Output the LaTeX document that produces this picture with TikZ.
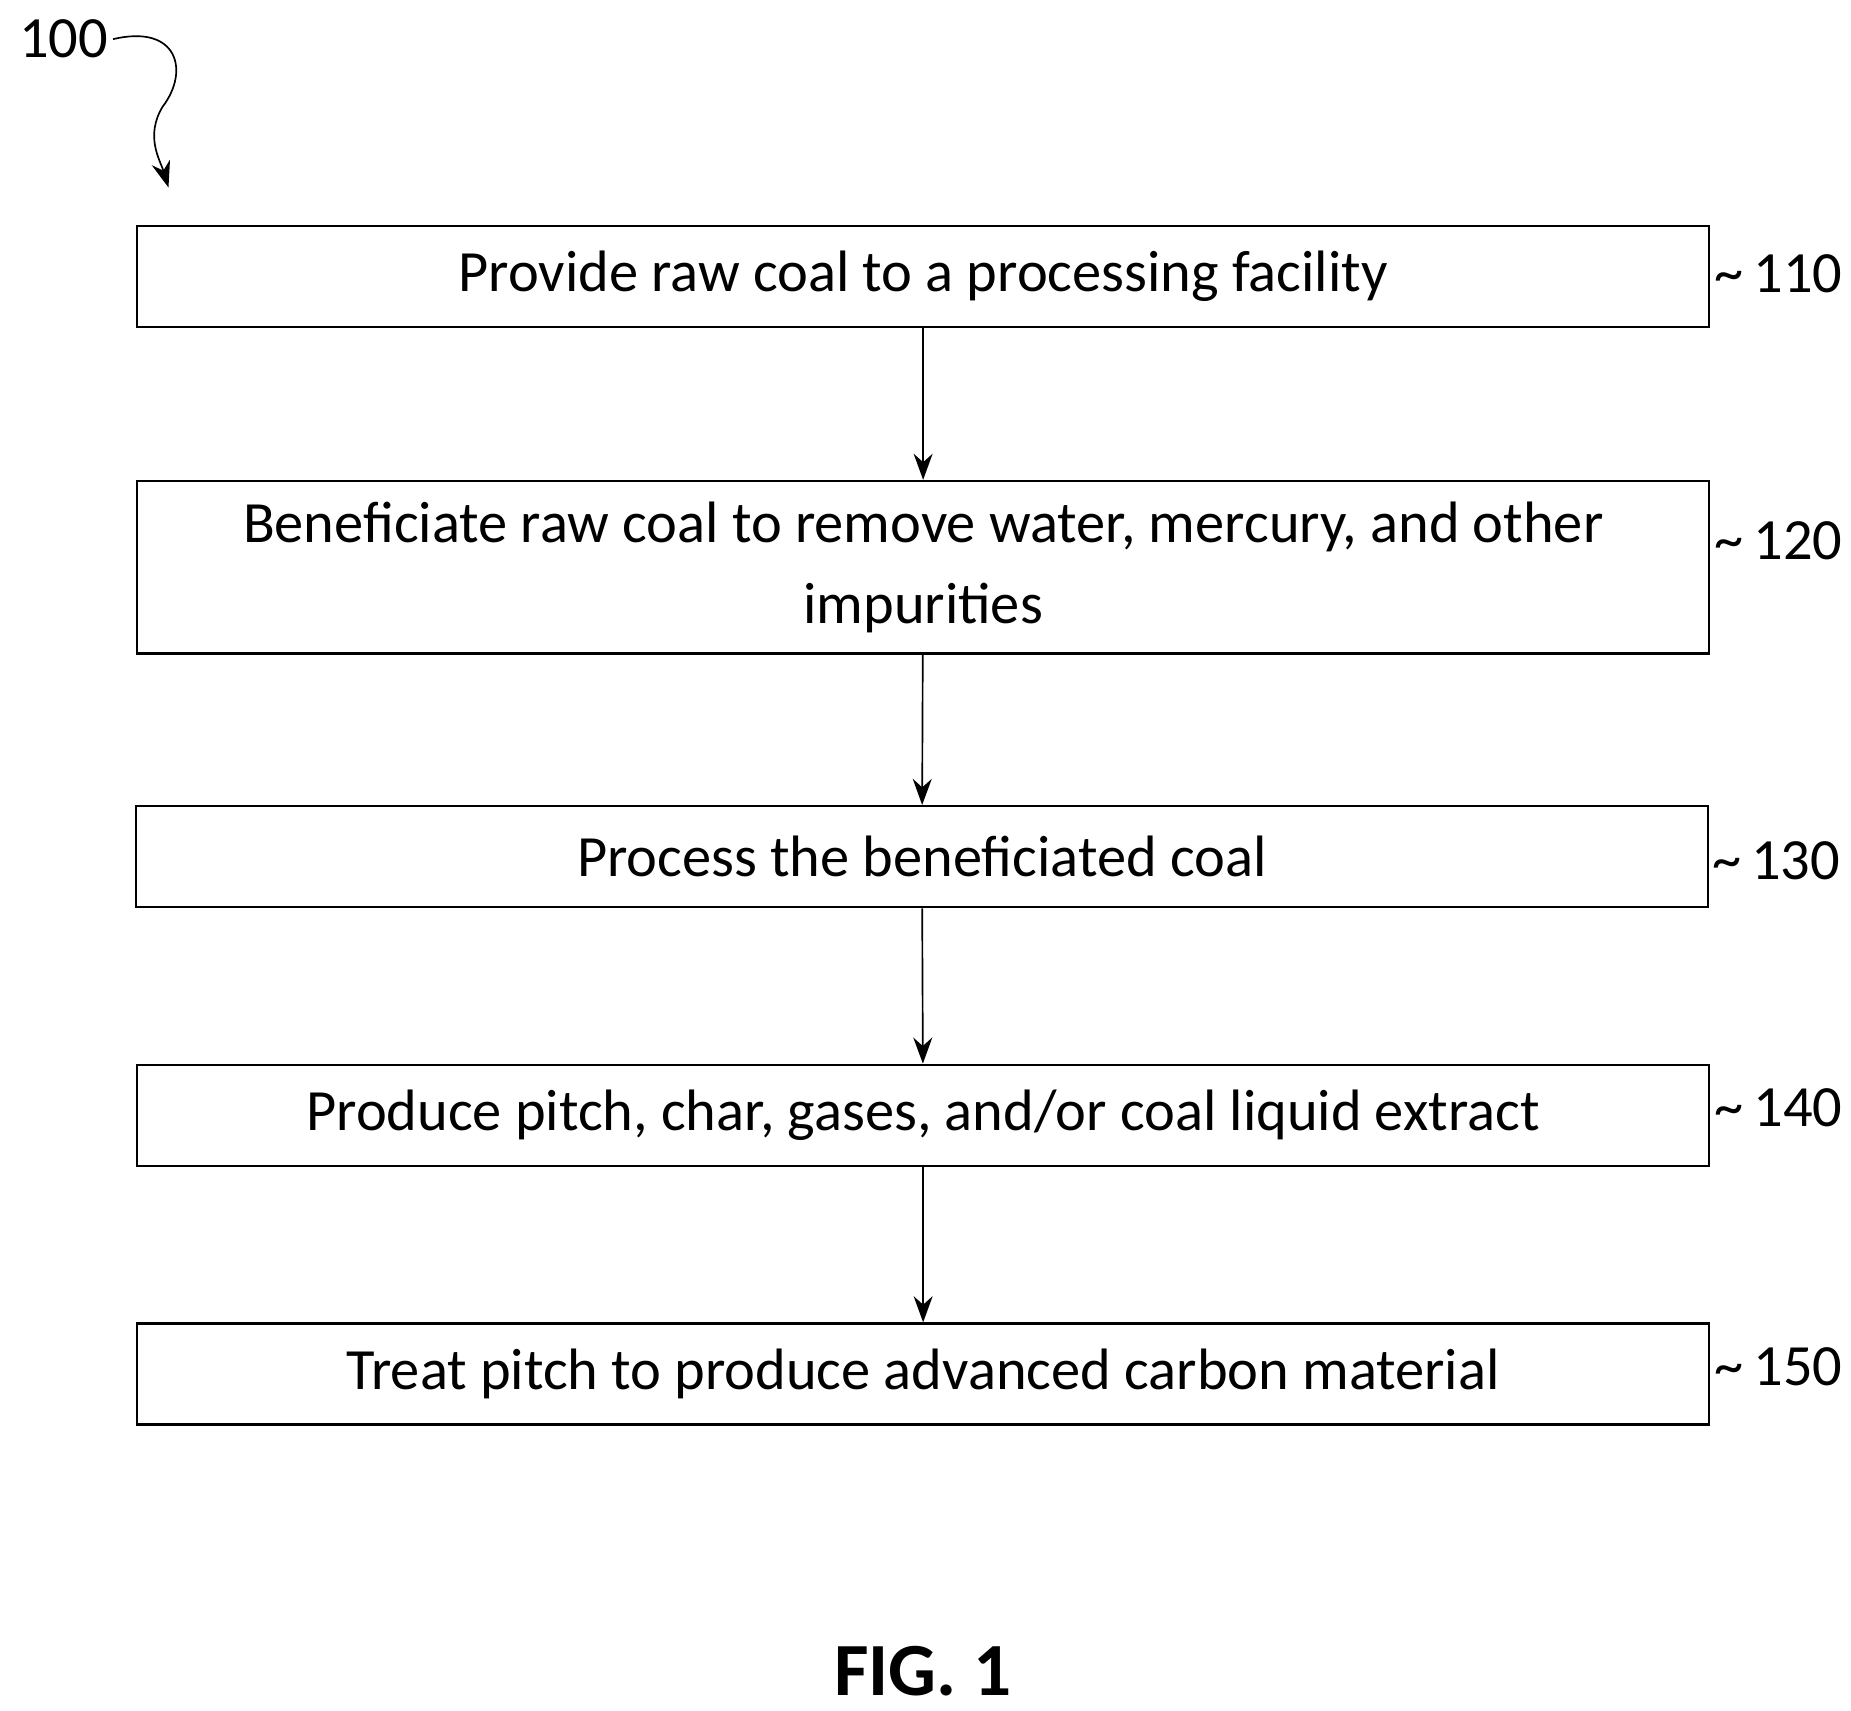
\documentclass[tikz,border=0pt]{standalone}
\usepackage{fontspec}
\setmainfont{Carlito}
\usetikzlibrary{positioning}
\usetikzlibrary{arrows.meta}

\begin{document}
\begin{tikzpicture}[x=0.01cm,y=-0.01cm,
    stepbox/.style = {draw, semithick, minimum width=13.24cm, align=center, font=\fontsize{14}{19.5}\selectfont, inner sep=0},
    flow/.style = {-{Stealth[length=2.2mm,width=1.6mm]}},
    ref/.style = {font=\fontsize{14}{16}\selectfont, anchor=west, inner sep=1pt}]

        % Bounding box
        \useasboundingbox (0,0) rectangle (1560,1442);

        % Steps
        \node[stepbox, minimum height=0.85cm] (s110) at (778,233) {Provide raw coal to a processing facility};
        \node[stepbox, minimum height=1.45cm] (s120) at (778,478) {Beneficiate raw coal to remove water, mercury, and other\\impurities};
        \node[stepbox, minimum height=0.85cm] (s130) at (777,722) {Process the beneficiated coal};
        \node[stepbox, minimum height=0.85cm] (s140) at (778,940) {Produce pitch, char, gases, and/or coal liquid extract};
        \node[stepbox, minimum height=0.85cm] (s150) at (778,1158) {Treat pitch to produce advanced carbon material};

        % Reference numerals
        \node[ref] (r110) at (1441,231) {\textasciitilde\,110};
        \node[ref] (r120) at (1441,456) {\textasciitilde\,120};
        \node[ref] (r130) at (1439,725) {\textasciitilde\,130};
        \node[ref] (r140) at (1441,934) {\textasciitilde\,140};
        \node[ref] (r150) at (1441,1152) {\textasciitilde\,150};

        % Connectors
        \draw[flow] (s110) -- (s120);
        \draw[flow] (s120) -- (s130);
        \draw[flow] (s130) -- (s140);
        \draw[flow] (s140) -- (s150);

        % Figure number
        \node[ref, anchor=west] (fig) at (12,33) {100};
        \coordinate (tip) at (142,158);
        \draw[flow] (fig.east) .. controls (150,20) and (160,60) .. (137,90) .. controls (122,115) and (135,135) .. (tip);

        \node[font=\bfseries\fontsize{18}{22}\selectfont] (title) at (778,1408) {FIG. 1};
\end{tikzpicture}
\end{document}
